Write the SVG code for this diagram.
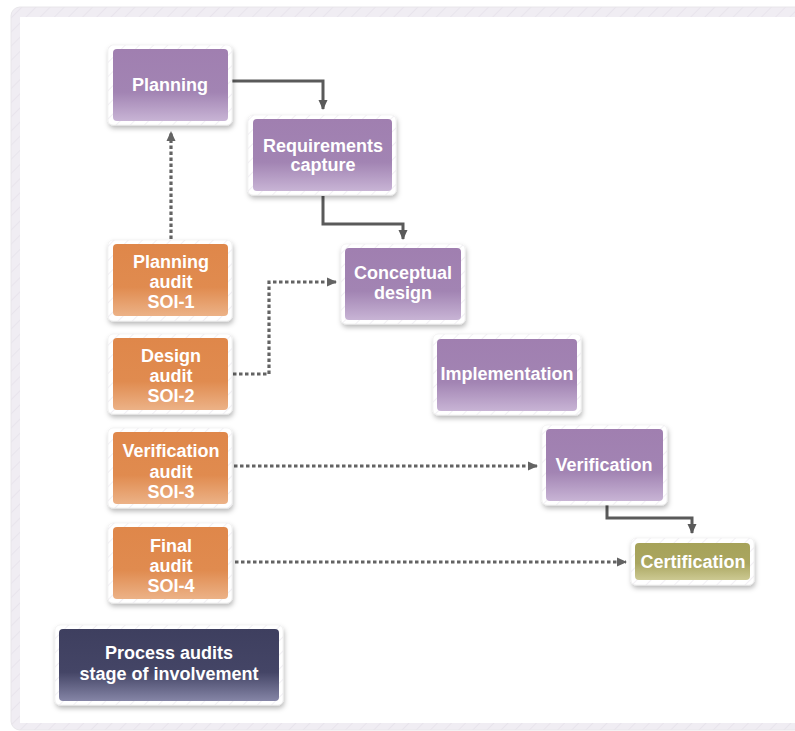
<svg xmlns="http://www.w3.org/2000/svg" width="795" height="731" viewBox="0 0 795 731">
<style>
.frame{fill:#ffffff;stroke:#ececec;stroke-width:0.6}
.hatch{fill:url(#hatch)}
.t{font-family:"Liberation Sans",Arial,sans-serif;font-weight:bold;font-size:18px;fill:#ffffff;text-anchor:middle}
.solid{fill:none;stroke:#5a5a5a;stroke-width:3}
.dot{fill:none;stroke:#636363;stroke-width:3.2;stroke-dasharray:3.5 2.5}
</style>
<defs>
<pattern id="hatch" patternUnits="userSpaceOnUse" width="10" height="10" patternTransform="rotate(45)">
<rect width="10" height="10" fill="none"/>
<line x1="0" y1="0" x2="0" y2="10" stroke="#e6e1ea" stroke-width="1"/>
</pattern>
<pattern id="hatchBg" patternUnits="userSpaceOnUse" width="10" height="10" patternTransform="rotate(45)">
<rect width="10" height="10" fill="#f0edf3"/>
<line x1="0" y1="0" x2="0" y2="10" stroke="#e6e2ea" stroke-width="1.5"/>
</pattern>
<linearGradient id="gPurple" x1="0" y1="0" x2="0" y2="1">
<stop offset="0" stop-color="#a07fb0"/>
<stop offset="0.6" stop-color="#a284b3"/>
<stop offset="1" stop-color="#c8b4d5"/>
</linearGradient>
<linearGradient id="gOrange" x1="0" y1="0" x2="0" y2="1">
<stop offset="0" stop-color="#df874a"/>
<stop offset="0.6" stop-color="#e08b4f"/>
<stop offset="1" stop-color="#ecb287"/>
</linearGradient>
<linearGradient id="gOlive" x1="0" y1="0" x2="0" y2="1">
<stop offset="0" stop-color="#a6a259"/>
<stop offset="0.55" stop-color="#aaa660"/>
<stop offset="1" stop-color="#ccc992"/>
</linearGradient>
<linearGradient id="gNavy" x1="0" y1="0" x2="0" y2="1">
<stop offset="0" stop-color="#3e3f5f"/>
<stop offset="0.6" stop-color="#444566"/>
<stop offset="1" stop-color="#8585a6"/>
</linearGradient>
<filter id="sh" x="-20%" y="-20%" width="140%" height="150%">
<feDropShadow dx="1" dy="3" stdDeviation="2.5" flood-color="#000" flood-opacity="0.28"/>
</filter>
<marker id="arr" markerUnits="userSpaceOnUse" markerWidth="11" markerHeight="11" refX="9" refY="5.5" orient="auto">
<path d="M0,1 L10,5.5 L0,10 Z" fill="#5a5a5a"/>
</marker>
<marker id="arrD" markerUnits="userSpaceOnUse" markerWidth="11" markerHeight="11" refX="9" refY="5.5" orient="auto">
<path d="M0,1 L10,5.5 L0,10 Z" fill="#636363"/>
</marker>
</defs>

<rect x="0" y="0" width="795" height="731" fill="#ffffff"/>
<g id="background">
<rect x="11" y="7" width="800" height="723" rx="9" fill="url(#hatchBg)" stroke="#e8e6ea" stroke-width="1"/>
<rect x="20" y="17" width="800" height="706" fill="#ffffff"/>
</g>

<g id="connectors">
<path class="solid" d="M232,81 H323 V109" marker-end="url(#arr)"/>
<path class="solid" d="M323,196 V224 H403 V239" marker-end="url(#arr)"/>
<path class="solid" d="M607,505 V518 H692 V533" marker-end="url(#arr)"/>
<path class="dot" d="M171,239 V132" marker-end="url(#arrD)"/>
<path class="dot" d="M233,374 H269 V282 H336" marker-end="url(#arrD)"/>
<path class="dot" d="M234,466 H537" marker-end="url(#arrD)"/>
<path class="dot" d="M235,562 H626" marker-end="url(#arrD)"/>
</g>

<g id="planning">
<rect class="frame" x="108" y="45" width="124" height="80" rx="5" filter="url(#sh)"/>
<rect class="hatch" x="108" y="45" width="124" height="80" rx="5"/>
<rect x="113" y="49" width="115" height="72" rx="4" fill="url(#gPurple)"/>
<text class="t" x="170" y="91">Planning</text>
</g>

<g id="requirements">
<rect class="frame" x="248" y="115" width="148" height="80" rx="5" filter="url(#sh)"/>
<rect class="hatch" x="248" y="115" width="148" height="80" rx="5"/>
<rect x="253" y="119" width="139" height="72" rx="4" fill="url(#gPurple)"/>
<text class="t" x="323" y="152">Requirements</text>
<text class="t" x="323" y="171">capture</text>
</g>

<g id="conceptual">
<rect class="frame" x="341" y="244" width="124" height="80" rx="5" filter="url(#sh)"/>
<rect class="hatch" x="341" y="244" width="124" height="80" rx="5"/>
<rect x="345" y="248" width="116" height="72" rx="4" fill="url(#gPurple)"/>
<text class="t" x="403" y="279">Conceptual</text>
<text class="t" x="403" y="299">design</text>
</g>

<g id="implementation">
<rect class="frame" x="433" y="334" width="148" height="81" rx="5" filter="url(#sh)"/>
<rect class="hatch" x="433" y="334" width="148" height="81" rx="5"/>
<rect x="437" y="339" width="140" height="72" rx="4" fill="url(#gPurple)"/>
<text class="t" x="507" y="380">Implementation</text>
</g>

<g id="verification">
<rect class="frame" x="542" y="425" width="125" height="80" rx="5" filter="url(#sh)"/>
<rect class="hatch" x="542" y="425" width="125" height="80" rx="5"/>
<rect x="546" y="429" width="117" height="72" rx="4" fill="url(#gPurple)"/>
<text class="t" x="604" y="471">Verification</text>
</g>

<g id="certification">
<rect class="frame" x="631" y="538" width="123" height="47" rx="5" filter="url(#sh)"/>
<rect class="hatch" x="631" y="538" width="123" height="47" rx="5"/>
<rect x="635" y="543" width="115" height="37" rx="4" fill="url(#gOlive)"/>
<text class="t" x="693" y="568">Certification</text>
</g>

<g id="planning-audit">
<rect class="frame" x="108" y="240" width="124" height="81" rx="5" filter="url(#sh)"/>
<rect class="hatch" x="108" y="240" width="124" height="81" rx="5"/>
<rect x="113" y="244" width="115" height="72" rx="4" fill="url(#gOrange)"/>
<text class="t" x="171" y="268">Planning</text>
<text class="t" x="171" y="288">audit</text>
<text class="t" x="171" y="308">SOI-1</text>
</g>

<g id="design-audit">
<rect class="frame" x="108" y="334" width="124" height="80" rx="5" filter="url(#sh)"/>
<rect class="hatch" x="108" y="334" width="124" height="80" rx="5"/>
<rect x="113" y="338" width="115" height="72" rx="4" fill="url(#gOrange)"/>
<text class="t" x="171" y="362">Design</text>
<text class="t" x="171" y="382">audit</text>
<text class="t" x="171" y="402">SOI-2</text>
</g>

<g id="verification-audit">
<rect class="frame" x="108" y="428" width="124" height="80" rx="5" filter="url(#sh)"/>
<rect class="hatch" x="108" y="428" width="124" height="80" rx="5"/>
<rect x="113" y="432" width="115" height="72" rx="4" fill="url(#gOrange)"/>
<text class="t" x="171" y="457">Verification</text>
<text class="t" x="171" y="478">audit</text>
<text class="t" x="171" y="498">SOI-3</text>
</g>

<g id="final-audit">
<rect class="frame" x="108" y="523" width="124" height="80" rx="5" filter="url(#sh)"/>
<rect class="hatch" x="108" y="523" width="124" height="80" rx="5"/>
<rect x="113" y="527" width="115" height="72" rx="4" fill="url(#gOrange)"/>
<text class="t" x="171" y="552">Final</text>
<text class="t" x="171" y="572">audit</text>
<text class="t" x="171" y="592">SOI-4</text>
</g>

<g id="process-audits">
<rect class="frame" x="55" y="625" width="228" height="80" rx="5" filter="url(#sh)"/>
<rect class="hatch" x="55" y="625" width="228" height="80" rx="5"/>
<rect x="59" y="629" width="220" height="72" rx="4" fill="url(#gNavy)"/>
<text class="t" x="169" y="659">Process audits</text>
<text class="t" x="169" y="680">stage of involvement</text>
</g>
</svg>
